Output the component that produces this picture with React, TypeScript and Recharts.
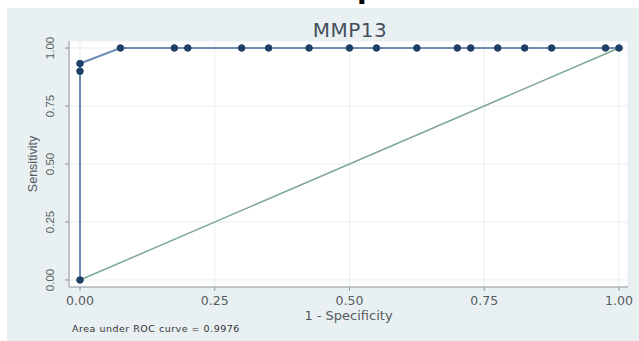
import React from 'react';
import { ComposedChart, Line, XAxis, YAxis, CartesianGrid } from 'recharts';

// ROC points (1 - specificity, sensitivity)
const fpr = [0, 0, 0, 0.075, 0.175, 0.2, 0.3, 0.35, 0.425, 0.5, 0.55, 0.625, 0.7, 0.725, 0.775, 0.825, 0.875, 0.975, 1];
const tpr = [0, 0.9, 0.933, 1, 1, 1, 1, 1, 1, 1, 1, 1, 1, 1, 1, 1, 1, 1, 1];
const refX = [0, 1];
const refY = [0, 1];
const ticks = [0, 0.25, 0.5, 0.75, 1];

const rocData = fpr.map((x, i) => ({ x, y: tpr[i] }));
const refData = refX.map((x, i) => ({ x, y: refY[i] }));

const W = 639;
const H = 341;
const PANEL = '#e9f0f2';
const H_FONT = '"DejaVu Sans", sans-serif';
const V_FONT = '"Liberation Sans", Arial, sans-serif';

const XTick = ({ x, payload }: any) => (
  <text x={x} y={300} textAnchor="middle" dominantBaseline="central" fontFamily={H_FONT} fontSize={12.5} fill="#555b61">
    {payload.value.toFixed(2)}
  </text>
);

const YTick = ({ y, payload }: any) => (
  <text
    x={50}
    y={y}
    transform={`rotate(-90, 50, ${y})`}
    textAnchor="middle"
    dominantBaseline="central"
    fontFamily={V_FONT}
    fontSize={11.5}
    fill="#555b61"
  >
    {payload.value.toFixed(2)}
  </text>
);

export default function App() {
  return (
    <div style={{ position: 'absolute', left: 0, top: 0, width: W, height: H, background: '#fff', overflow: 'hidden' }}>
      <div style={{ position: 'absolute', left: 7, top: 8, width: W - 7, height: H - 8, background: PANEL }} />
      <div style={{ position: 'absolute', left: 0, top: 0 }}>
        <ComposedChart width={W} height={H} margin={{ top: 41, right: 11, bottom: 0, left: 0 }}>
          <CartesianGrid fill="#fff" stroke="#e8eff2" strokeWidth={1} />
          <XAxis
            type="number"
            dataKey="x"
            domain={[0, 1]}
            ticks={ticks}
            height={54}
            padding={{ left: 11, right: 9 }}
            stroke="#8e969b"
            tickSize={4}
            tick={<XTick />}
            label={{
              content: ({ viewBox }: any) => (
                <text
                  x={viewBox.x + viewBox.width / 2}
                  y={315}
                  textAnchor="middle"
                  dominantBaseline="central"
                  fontFamily={H_FONT}
                  fontSize={13}
                  fill="#555b61"
                >
                  1 - Specificity
                </text>
              ),
            }}
          />
          <YAxis
            type="number"
            dataKey="y"
            domain={[0, 1]}
            ticks={ticks}
            width={69}
            padding={{ top: 7, bottom: 7 }}
            stroke="#8e969b"
            tickSize={4}
            tick={<YTick />}
            label={{
              content: ({ viewBox }: any) => {
                const cy = viewBox.y + viewBox.height / 2;
                return (
                  <text
                    x={33}
                    y={cy}
                    transform={`rotate(-90, 33, ${cy})`}
                    textAnchor="middle"
                    dominantBaseline="central"
                    fontFamily={V_FONT}
                    fontSize={12.5}
                    fill="#555b61"
                  >
                    Sensitivity
                  </text>
                );
              },
            }}
          />
          <Line
            data={refData}
            dataKey="y"
            type="linear"
            stroke="#7ea894"
            strokeWidth={1.5}
            dot={false}
            isAnimationActive={false}
          />
          <Line
            data={rocData}
            dataKey="y"
            type="linear"
            stroke="#6b8db3"
            strokeWidth={2}
            dot={{ r: 3.3, fill: '#1f3f66', stroke: '#1f3f66', strokeWidth: 1 }}
            isAnimationActive={false}
          />
        </ComposedChart>
      </div>
      <svg width={W} height={H} style={{ position: 'absolute', left: 0, top: 0, pointerEvents: 'none' }}>
        <text x={357} y={-2} fontFamily={H_FONT} fontWeight="bold" fontSize={28} fill="#000">p</text>
        <text x={350} y={30} textAnchor="middle" dominantBaseline="central" fontFamily={H_FONT} fontSize={20} letterSpacing={0.5} fill="#444f5d">
          MMP13
        </text>
        <text x={72} y={328} dominantBaseline="central" fontFamily={H_FONT} fontSize={9.5} letterSpacing={0.5} fill="#333">
          Area under ROC curve = 0.9976
        </text>
      </svg>
    </div>
  );
}
